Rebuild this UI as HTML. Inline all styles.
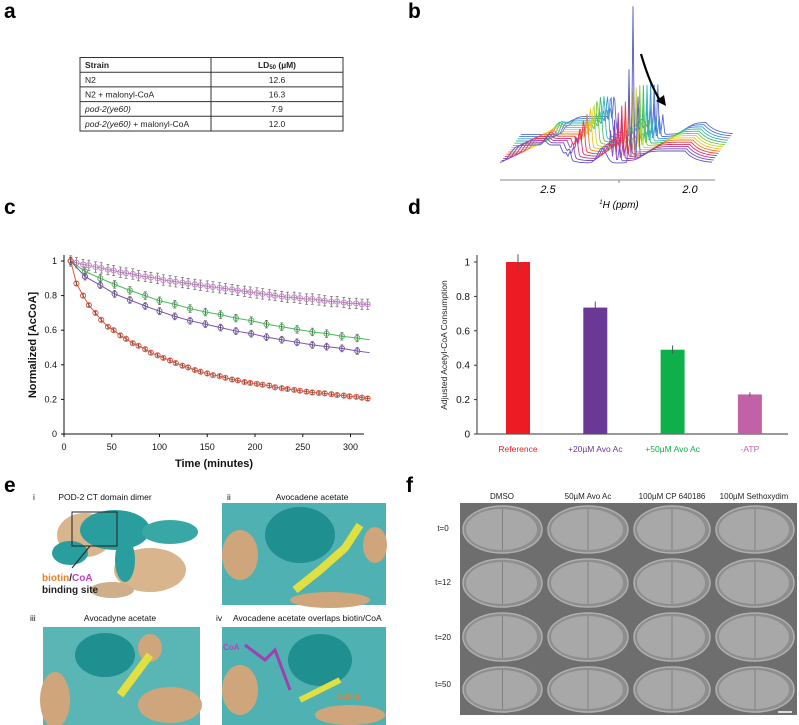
<!DOCTYPE html>
<html><head><meta charset="utf-8">
<style>
html,body{margin:0;padding:0;background:#fff;}
svg{display:block;font-family:"Liberation Sans",sans-serif;}
.pl{font-weight:bold;font-size:21px;}
</style></head>
<body>
<svg id="fig" width="799" height="725" viewBox="0 0 799 725" xmlns="http://www.w3.org/2000/svg">
<text class="pl" x="4" y="18">a</text>
<text class="pl" x="408" y="18">b</text>
<text class="pl" x="4" y="214">c</text>
<text class="pl" x="408" y="214">d</text>
<text class="pl" x="4" y="492">e</text>
<text class="pl" x="406" y="492">f</text>

<g font-size="8.5" fill="#222">
<rect x="80" y="57.5" width="263" height="73.5" fill="none" stroke="#333" stroke-width="1"/>
<line x1="211" y1="57.5" x2="211" y2="131" stroke="#333"/>
<line x1="80" y1="72.2" x2="343" y2="72.2" stroke="#333"/>
<line x1="80" y1="86.9" x2="343" y2="86.9" stroke="#333"/>
<line x1="80" y1="101.6" x2="343" y2="101.6" stroke="#333"/>
<line x1="80" y1="116.3" x2="343" y2="116.3" stroke="#333"/>
<text x="85" y="68" font-weight="bold">Strain</text>
<text x="277" y="68" font-weight="bold" text-anchor="middle">LD<tspan font-size="6" dy="1">50</tspan><tspan dy="-1"> (µM)</tspan></text>
<text x="85" y="83">N2</text><text x="277" y="83" text-anchor="middle">12.6</text>
<text x="85" y="97.5">N2 + malonyl-CoA</text><text x="277" y="97.5" text-anchor="middle">16.3</text>
<text x="85" y="112"><tspan font-style="italic">pod-2(ye60)</tspan></text><text x="277" y="112" text-anchor="middle">7.9</text>
<text x="85" y="127"><tspan font-style="italic">pod-2(ye60)</tspan> + malonyl-CoA</text><text x="277" y="127" text-anchor="middle">12.0</text>
</g>

<g id="nmr"></g>
<g>
<line x1="500" y1="180" x2="715" y2="180" stroke="#888" stroke-width="1"/>
<line x1="619" y1="180" x2="619" y2="183" stroke="#888"/>
<text x="548" y="193" font-size="11" font-style="italic" text-anchor="middle">2.5</text>
<text x="690" y="193" font-size="11" font-style="italic" text-anchor="middle">2.0</text>
<text x="619" y="208" font-size="10" font-style="italic" text-anchor="middle"><tspan font-size="6" dy="-4">1</tspan><tspan dy="4">H (ppm)</tspan></text>
</g>
<path d="M641,54 Q650,85 661,102" fill="none" stroke="#000" stroke-width="2.2"/>
<polygon points="656,101 666,106 664,95" fill="#000"/>

<g id="chartC"></g>
<g id="chartD"></g>

<g font-size="8.5" fill="#111">
<text x="33" y="500">i</text><text x="105" y="500" text-anchor="middle">POD-2 CT domain dimer</text>
<text x="227" y="500">ii</text><text x="312" y="500" text-anchor="middle">Avocadene acetate</text>
<text x="30" y="621">iii</text><text x="120" y="621" text-anchor="middle">Avocadyne acetate</text>
<text x="216" y="621">iv</text><text x="233" y="621">Avocadene acetate overlaps biotin/CoA</text>
</g>
<g>
<ellipse cx="85" cy="535" rx="28" ry="22" fill="#d8b58d"/>
<ellipse cx="150" cy="570" rx="36" ry="22" fill="#d8b58d"/>
<ellipse cx="115" cy="530" rx="35" ry="20" fill="#2a9e9e"/>
<ellipse cx="170" cy="532" rx="28" ry="12" fill="#3aa7a7"/>
<ellipse cx="70" cy="553" rx="18" ry="12" fill="#2a9e9e"/>
<ellipse cx="125" cy="560" rx="10" ry="22" fill="#2a9e9e"/>
<ellipse cx="112" cy="590" rx="22" ry="8" fill="#cfae8a"/>
<rect x="72" y="512" width="45" height="34" fill="none" stroke="#222" stroke-width="1"/>
<line x1="90" y1="546" x2="72" y2="568" stroke="#222" stroke-width="1"/>
<text x="42" y="581" font-size="10" font-weight="bold" fill="#f07f2a">biotin<tspan fill="#222">/</tspan><tspan fill="#c040c0">CoA</tspan></text>
<text x="42" y="593" font-size="10" font-weight="bold" fill="#222">binding site</text>
</g>
<g>
<rect x="222" y="503" width="164" height="102" fill="#4fb1b1"/>
<ellipse cx="300" cy="535" rx="35" ry="28" fill="#1f8f8f"/>
<ellipse cx="240" cy="555" rx="18" ry="25" fill="#cfa67c"/>
<ellipse cx="375" cy="545" rx="12" ry="18" fill="#cfa67c"/>
<ellipse cx="330" cy="600" rx="40" ry="8" fill="#cfa67c"/>
<path d="M295,590 L320,570 L345,548 L360,525" stroke="#e0e040" stroke-width="8" fill="none"/>
</g>
<g>
<rect x="43" y="627" width="157" height="98" fill="#5ab5b5"/>
<ellipse cx="105" cy="655" rx="30" ry="22" fill="#1f8f8f"/>
<ellipse cx="55" cy="700" rx="15" ry="28" fill="#cfa67c"/>
<ellipse cx="150" cy="648" rx="12" ry="14" fill="#cfa67c"/>
<ellipse cx="170" cy="705" rx="32" ry="18" fill="#cfa67c"/>
<path d="M120,695 L135,675 L150,655" stroke="#e0e040" stroke-width="8" fill="none"/>
</g>
<g>
<rect x="222" y="627" width="164" height="98" fill="#4fb1b1"/>
<ellipse cx="320" cy="660" rx="32" ry="26" fill="#1f8f8f"/>
<ellipse cx="240" cy="690" rx="18" ry="25" fill="#cfa67c"/>
<ellipse cx="350" cy="715" rx="35" ry="10" fill="#cfa67c"/>
<path d="M245,645 L265,660 L275,650 L290,690" stroke="#a040b0" stroke-width="3" fill="none"/>
<path d="M300,700 L320,690 L340,680" stroke="#e0e040" stroke-width="6" fill="none"/>
<text x="223" y="650" font-size="8" font-weight="bold" fill="#c040c0">CoA</text>
<text x="338" y="699" font-size="8" font-weight="bold" fill="#f07f2a">biotin</text>
</g>

<g id="embryos"></g>
<g font-size="8" fill="#222" text-anchor="middle">
<text x="502" y="499">DMSO</text><text x="588" y="499">50µM Avo Ac</text>
<text x="672" y="499">100µM CP 640186</text><text x="754" y="499">100µM Sethoxydim</text>
<text x="443" y="531">t=0</text><text x="443" y="585">t=12</text>
<text x="443" y="640">t=20</text><text x="443" y="687">t=50</text>
</g>
</svg>
<script>
// ---------- Panel C data ----------
const denseTimes = [7,13,20,26,33,39,46,52,59,65,72,78,85,91,98,104,111,117,124,130,137,143,150,156,163,169,176,182,189,195,202,208,215,221,228,234,241,247,254,260,267,273,280,286,293,299,306,312,318];
const refValues = [1.0,0.87,0.80,0.745,0.70,0.66,0.62,0.60,0.57,0.55,0.525,0.51,0.49,0.47,0.455,0.44,0.425,0.41,0.395,0.385,0.37,0.36,0.35,0.34,0.335,0.325,0.315,0.31,0.30,0.295,0.29,0.285,0.28,0.27,0.265,0.26,0.255,0.25,0.245,0.24,0.237,0.235,0.23,0.225,0.222,0.218,0.215,0.21,0.205];
const atpValues = [1.0,0.99,0.98,0.975,0.965,0.96,0.95,0.945,0.935,0.93,0.925,0.915,0.91,0.905,0.90,0.89,0.885,0.88,0.875,0.87,0.865,0.86,0.855,0.85,0.845,0.84,0.835,0.83,0.825,0.82,0.815,0.81,0.805,0.80,0.795,0.79,0.79,0.785,0.78,0.78,0.775,0.77,0.765,0.765,0.76,0.755,0.755,0.75,0.75];
const sparseTimes = [7,22,38,53,69,85,100,116,132,148,164,180,196,212,228,244,260,275,291,307];
const avo50Values = [1.0,0.94,0.90,0.865,0.83,0.80,0.77,0.75,0.725,0.705,0.69,0.67,0.655,0.635,0.62,0.605,0.59,0.58,0.565,0.555];
const avo20Values = [1.0,0.91,0.86,0.81,0.775,0.74,0.71,0.68,0.655,0.635,0.615,0.595,0.58,0.56,0.545,0.53,0.515,0.505,0.495,0.48];
const fitEnd = {ref:0.205, atp:0.748, avo50:0.545, avo20:0.47};
const errRef = 0.01, errAtp = 0.03, errAvo50 = 0.022, errAvo20 = 0.02;
const xTicksC = [0,50,100,150,200,250,300];
const yTicksC = [0,0.2,0.4,0.6,0.8,1];

// ---------- Panel D data ----------
const dCategories = ["Reference","+20µM Avo Ac","+50µM Avo Ac","-ATP"];
const dValues = [1.0,0.735,0.49,0.23];
const dErrors = [0.045,0.035,0.025,0.012];
const dColors = ["#ed1c24","#6a3996","#0db04b","#c162a8"];
const yTicksD = [0,0.2,0.4,0.6,0.8,1];

// ---------- Panel B data (front trace first) ----------
const nmrColors = ["#5a5ac0","#7a4cc0","#b03ca8","#e0306a","#ee3a3a","#f07a2a","#f2c020","#c8d830","#7acc3a","#3ac070","#3ab8b0","#3a9ad8","#4a7ad8","#5a6ad0"];
const nmrPeakMain = [155,40,45,50,52,55,58,60,60,58,56,55,52,50];
const nmrPeakPos = [133,113,115,117,119,121,123,125,127,129,131,133,135,137];
const nmrPeakLeft = [8,10,18,25,30,34,38,40,42,42,40,38,36,34];

const NS = "http://www.w3.org/2000/svg";
function mk(tag, attrs, parent){ const e=document.createElementNS(NS,tag); for(const k in attrs) e.setAttribute(k,attrs[k]); parent.appendChild(e); return e; }

(function(){
  const g = document.getElementById('chartC');
  const X = t => 64 + t*0.955;
  const Y = v => 434 - v*173;
  mk('line',{x1:64,y1:434,x2:364,y2:434,stroke:'#111','stroke-width':1},g);
  mk('line',{x1:64,y1:255,x2:64,y2:434,stroke:'#111','stroke-width':1},g);
  xTicksC.forEach(t=>{
    mk('line',{x1:X(t),y1:434,x2:X(t),y2:437,stroke:'#111'},g);
    const tx=mk('text',{x:X(t),y:450,'font-size':9,'text-anchor':'middle',fill:'#111'},g); tx.textContent=t;
     
  });
  yTicksC.forEach(v=>{
    mk('line',{x1:61,y1:Y(v),x2:64,y2:Y(v),stroke:'#111'},g);
    const tx=mk('text',{x:57,y:Y(v)+3,'font-size':9,'text-anchor':'end',fill:'#111'},g); tx.textContent=v;
     
  });
  const xl=mk('text',{x:214,y:467,'font-size':11,'font-weight':'bold','text-anchor':'middle',fill:'#111'},g); xl.textContent='Time (minutes)';
   
  const yl=mk('text',{x:0,y:0,'font-size':11,'font-weight':'bold','text-anchor':'middle',fill:'#111',transform:'translate(36,345) rotate(-90)'},g); yl.textContent='Normalized [AcCoA]';
   
  const series = [
    {name:'minus-atp',t:denseTimes,v:atpValues,c:'#c77fc7',e:errAtp,end:fitEnd.atp},
    {name:'avo-50',t:sparseTimes,v:avo50Values,c:'#4cb85a',e:errAvo50,end:fitEnd.avo50},
    {name:'avo-20',t:sparseTimes,v:avo20Values,c:'#7a52b0',e:errAvo20,end:fitEnd.avo20},
    {name:'reference',t:denseTimes,v:refValues,c:'#e2553c',e:errRef,end:fitEnd.ref}
  ];
  series.forEach(s=>{
    const sg = mk('g',{},g);
    
    
    let pts = s.t.map((t,i)=>X(t)+','+Y(s.v[i])).join(' ') + ' ' + X(320)+','+Y(s.end);
    const pl = mk('polyline',{points:pts,fill:'none',stroke:s.c,'stroke-width':1},sg);
    
    
    s.t.forEach((t,i)=>{
      const x=X(t), y=Y(s.v[i]);
      const eb = mk('line',{x1:x,y1:Y(s.v[i]+s.e),x2:x,y2:Y(s.v[i]-s.e),stroke:s.name==='minus-atp'?'#777':'#444','stroke-width':0.8},sg);
      
      
      mk('line',{x1:x-1.5,y1:Y(s.v[i]+s.e),x2:x+1.5,y2:Y(s.v[i]+s.e),stroke:'#555','stroke-width':0.6},sg);
      mk('line',{x1:x-1.5,y1:Y(s.v[i]-s.e),x2:x+1.5,y2:Y(s.v[i]-s.e),stroke:'#555','stroke-width':0.6},sg);
      const c = mk('circle',{cx:x,cy:y,r:2.6,fill:'none',stroke:s.c,'stroke-width':0.9},sg);
      
      
    });
  });
})();

(function(){
  const g = document.getElementById('chartD');
  const Y = v => 434 - v*172;
  const X0 = 477, step = 77.3, first = 518;
  mk('line',{x1:X0,y1:434,x2:788,y2:434,stroke:'#333','stroke-width':1},g);
  mk('line',{x1:X0,y1:255,x2:X0,y2:434,stroke:'#333','stroke-width':1},g);
  yTicksD.forEach(v=>{
    mk('line',{x1:X0-3,y1:Y(v),x2:X0,y2:Y(v),stroke:'#333'},g);
    const tx=mk('text',{x:X0-7,y:Y(v)+3.5,'font-size':10,'text-anchor':'end',fill:'#111'},g); tx.textContent=v;
     
  });
  const yl=mk('text',{x:0,y:0,'font-size':8.5,'text-anchor':'middle',fill:'#222',transform:'translate(447,345) rotate(-90)'},g); yl.textContent='Adjusted Acetyl-CoA Consumption';
   
  dCategories.forEach((c,i)=>{
    const cx = first + i*step;
    const b = mk('rect',{x:cx-12,y:Y(dValues[i]),width:24,height:434-Y(dValues[i]),fill:dColors[i]},g);
    
    
    const eb = mk('line',{x1:cx,y1:Y(dValues[i]+dErrors[i]),x2:cx,y2:Y(dValues[i]-dErrors[i]),stroke:'#555','stroke-width':1},g);
    
    
    const t = mk('text',{x:cx,y:452,'font-size':8.5,'text-anchor':'middle',fill:dColors[i]},g); t.textContent=c;
     
  });
})();

(function(){
  const g = document.getElementById('nmr');
  for(let k=nmrColors.length-1;k>=0;k--){
    const ox = 500 + k*1.6, oy = 163 - k*2.2;
    const pk = nmrPeakMain[k], pl = nmrPeakLeft[k], pp = nmrPeakPos[k];
    const d = [];
    for(let x=0;x<=212;x+=1){
      let y = 0;
      y += 18/(1+Math.exp(-(x-(10+k*3))/3)) * (x<60+k*2?1:Math.exp(-(x-60-k*2)/6));
      y += 4*Math.exp(-Math.pow((x-45)/3,2));
      y += pl*Math.exp(-Math.pow((x-(70+k*1.8))/1.6,2));
      y += 0.5*pl*Math.exp(-Math.pow((x-(66+k*1.8))/1.4,2));
      y += 15*Math.exp(-Math.pow((x-(102+k*1.5))/6,2));
      y += pk*Math.exp(-Math.pow((x-pp)/1.0,2));
      y += 0.6*pk*Math.exp(-Math.pow((x-pp+4)/1.0,2));
      y += 0.4*pk*Math.exp(-Math.pow((x-pp-5)/1.2,2));
      y += 12/(1+Math.exp(-(x-(140+k*2))/4)) * (x<185?1:Math.exp(-(x-185)/10));
      d.push((ox+x).toFixed(1)+','+(oy-y).toFixed(1));
    }
    const p = mk('polyline',{points:d.join(' '),fill:'none',stroke:nmrColors[k],'stroke-width':0.9},g);
    
    
  }
})();

const colEdges = [460,545,631,713,797];
const rowEdges = [503,556,610,664,715];
(function(){
  const g = document.getElementById('embryos');
  for(let c=0;c<4;c++) for(let r=0;r<4;r++){
    const x=colEdges[c], y=rowEdges[r], w=colEdges[c+1]-x, h=rowEdges[r+1]-y;
    const cell = mk('g',{},g);
    
    
    mk('rect',{x:x,y:y,width:w,height:h,fill:'#6e6e6e'},cell);
    mk('ellipse',{cx:x+w/2,cy:y+h/2,rx:w/2-3,ry:h/2-3,fill:'#8e8e8e',stroke:'#b0b0b0','stroke-width':1.5},cell);
    mk('ellipse',{cx:x+w/2-1,cy:y+h/2,rx:w/2-7,ry:h/2-6,fill:'#a8a8a8'},cell);
    mk('line',{x1:x+w/2,y1:y+6,x2:x+w/2,y2:y+h-6,stroke:'#808080','stroke-width':1},cell);
  }
  mk('line',{x1:778,y1:712,x2:792,y2:712,stroke:'#fff','stroke-width':1.5},g);
})();
</script>
</body></html>
